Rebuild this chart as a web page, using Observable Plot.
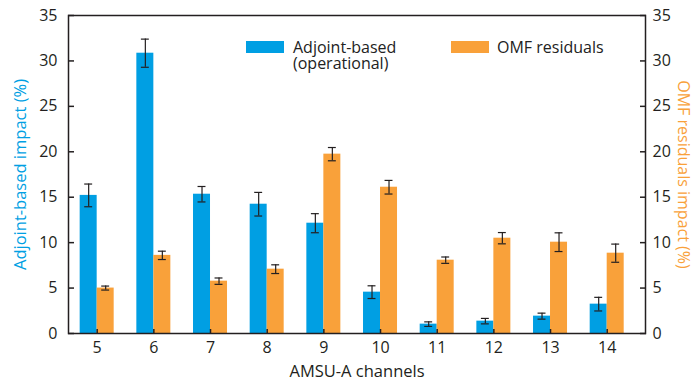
<!DOCTYPE html>
<html><head><meta charset="utf-8">
<script src="https://cdn.jsdelivr.net/npm/d3@7"></script>
<script src="https://cdn.jsdelivr.net/npm/@observablehq/plot@0.6"></script>
<style>
html,body{margin:0;padding:0;background:#fff;}
#wrap{position:relative;width:694px;height:383px;font-family:"Open Sans",sans-serif;}
.leg{position:absolute;font-size:16px;color:#222;line-height:16px;white-space:pre;}
.sw{position:absolute;width:38px;height:12px;}
</style></head><body><div id="wrap"></div>
<script>
const channels = [5, 6, 7, 8, 9, 10, 11, 12, 13, 14];
const adjoint = [15.2, 30.85, 15.33, 14.23, 12.14, 4.55, 1.03, 1.36, 1.91, 3.23];
const adjointErr = [1.25, 1.55, 0.85, 1.3, 1.05, 0.7, 0.25, 0.3, 0.33, 0.75];
const omf = [5.0, 8.6, 5.76, 7.08, 19.74, 16.1, 8.07, 10.49, 10.05, 8.84];
const omfErr = [0.22, 0.46, 0.35, 0.48, 0.73, 0.75, 0.35, 0.62, 1.03, 1.0];
const yTicks = [0, 5, 10, 15, 20, 25, 30, 35];
const seriesNames = ["Adjoint-based\n(operational)", "OMF residuals"];
const xTitle = "AMSU-A channels";
const yLeftTitle = "Adjoint-based impact (%)";
const yRightTitle = "OMF residuals impact (%)";

const blue = "#009fe3", orange = "#f9a13a", ink = "#231f20";
const W = 0.3, CAP = 0.07;
const rows = channels.map((c, i) => ({c, a: adjoint[i], ae: adjointErr[i], o: omf[i], oe: omfErr[i]}));

function errMarks(cx, v, e) {
  return [
    Plot.ruleX(rows, {x: cx, y1: d => v(d) - e(d), y2: d => v(d) + e(d), stroke: ink, strokeWidth: 1.2}),
    Plot.ruleY(rows, {y: d => v(d) + e(d), x1: d => cx(d) - CAP, x2: d => cx(d) + CAP, stroke: ink, strokeWidth: 1.2}),
    Plot.ruleY(rows, {y: d => v(d) - e(d), x1: d => cx(d) - CAP, x2: d => cx(d) + CAP, stroke: ink, strokeWidth: 1.2})
  ];
}

const chart = Plot.plot({
  width: 694, height: 383,
  marginLeft: 68, marginRight: 49, marginTop: 15, marginBottom: 50,
  style: {fontFamily: '"Open Sans", sans-serif', fontSize: "16px", color: ink, background: "#fff"},
  x: {domain: [4.494, 14.676]},
  y: {domain: [0, 35]},
  marks: [
    Plot.rectY(rows, {x1: d => d.c - W, x2: d => d.c, y: "a", fill: blue}),
    Plot.rectY(rows, {x1: d => d.c, x2: d => d.c + W, y: "o", fill: orange}),
    ...errMarks(d => d.c - W / 2, d => d.a, d => d.ae),
    ...errMarks(d => d.c + W / 2, d => d.o, d => d.oe),
    Plot.axisY(yTicks, {anchor: "left", tickSize: -6, tickPadding: 17, label: null, stroke: ink, strokeWidth: 1.5}),
    Plot.axisY(yTicks, {anchor: "right", tickSize: -6, tickPadding: 13, label: null, stroke: ink, strokeWidth: 1.5}),
    Plot.axisX(channels, {anchor: "bottom", tickSize: -4, tickPadding: 12, label: null, stroke: ink, strokeWidth: 1.5}),
    Plot.frame({stroke: ink, strokeWidth: 1.5}),
    Plot.text([yLeftTitle], {text: d => d, frameAnchor: "left", textAnchor: "middle", lineAnchor: "middle", rotate: -90, dx: -48, fill: blue, fontSize: 16.5}),
    Plot.text([yRightTitle], {text: d => d, frameAnchor: "right", textAnchor: "middle", lineAnchor: "middle", rotate: 90, dx: 38, fill: orange, fontSize: 16}),
    Plot.text([xTitle], {text: d => d, frameAnchor: "bottom", textAnchor: "middle", lineAnchor: "middle", dy: 38, fill: ink, fontSize: 16.5})
  ]
});
const wrap = document.getElementById("wrap");
wrap.appendChild(chart);

const legendPos = [{sx: 246, tx: 293, color: blue}, {sx: 451, tx: 497, color: orange}];
seriesNames.forEach((name, i) => {
  const p = legendPos[i];
  const sw = document.createElement("div");
  sw.className = "sw";
  sw.style.left = p.sx + "px"; sw.style.top = "41px"; sw.style.background = p.color;
  wrap.appendChild(sw);
  const t = document.createElement("div");
  t.className = "leg";
  t.style.left = p.tx + "px"; t.style.top = "39px";
  t.textContent = name;
  wrap.appendChild(t);
});
</script></body></html>
